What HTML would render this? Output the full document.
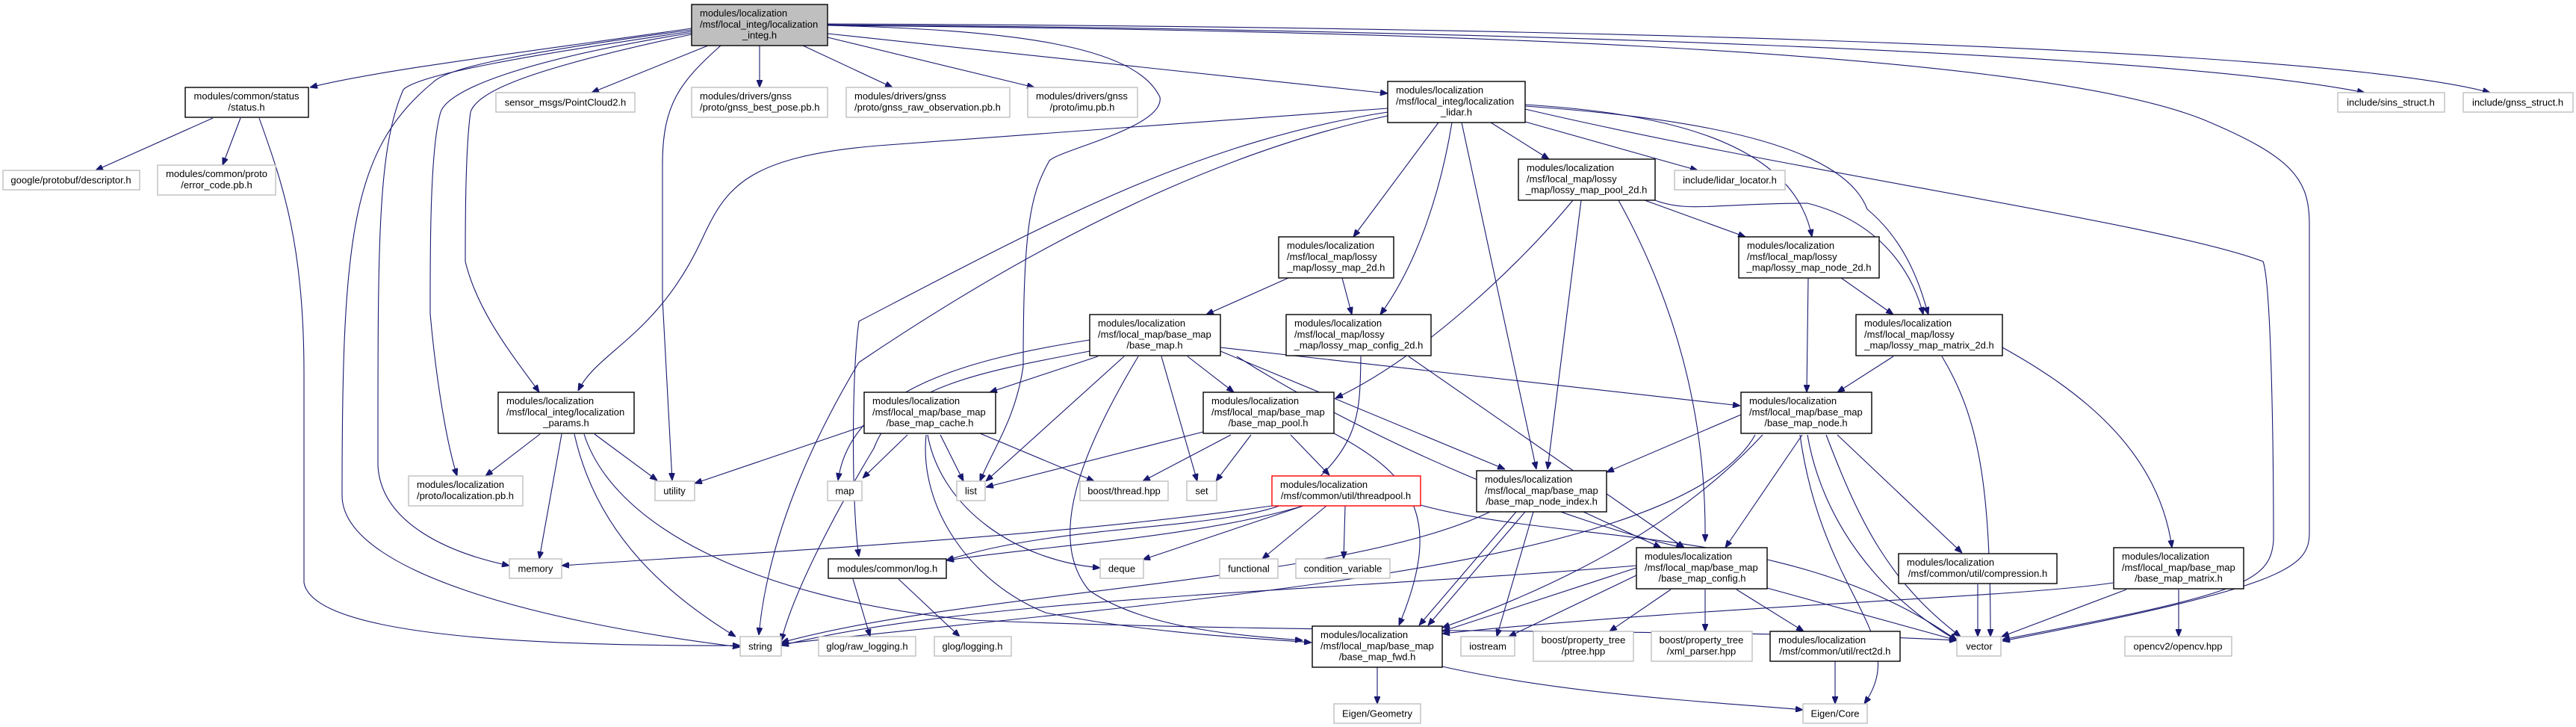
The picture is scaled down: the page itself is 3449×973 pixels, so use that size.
<!DOCTYPE html>
<html><head><meta charset="utf-8">
<style>
html,body{margin:0;padding:0;background:#fff;}
svg{display:block;}
text{font-family:"Liberation Sans",sans-serif;font-size:13px;fill:#000;}
.b{fill:#fff;stroke:#000;stroke-width:1.4;}
.g{fill:#fff;stroke:#bfbfbf;stroke-width:1.4;}
.m{fill:#bfbfbf;stroke:#000;stroke-width:1.4;}
.r{fill:#fff;stroke:#ff0000;stroke-width:1.4;}
.e{fill:none;stroke:#191970;stroke-width:1.1;marker-end:url(#a);}
.c{text-anchor:middle;}
</style></head><body>
<svg width="3449" height="973" viewBox="0 0 3449 973" xmlns="http://www.w3.org/2000/svg">
<defs><marker id="a" viewBox="0 0 10 8" refX="10" refY="4" markerWidth="10" markerHeight="8" markerUnits="userSpaceOnUse" orient="auto"><path d="M0,0L10,4L0,8z" fill="#191970" stroke="#191970"/></marker></defs>

<!-- edges from main -->
<path class="e" d="M926,38 C700,70 500,95 415,117"/>
<path class="e" d="M948,61 L792,124"/>
<path class="e" d="M1017,61 L1017,117"/>
<path class="e" d="M1075,61 L1195,117"/>
<path class="e" d="M1108,50 L1385,117"/>
<path class="e" d="M1108,45 L1858,125"/>
<path class="e" d="M1108,33 C2000,40 2900,70 3166,124"/>
<path class="e" d="M1108,32 C2000,35 3100,60 3334,124"/>
<path class="e" d="M1108,34 C1800,40 2700,60 2950,160 C3070,210 3092,240 3092,300 L3092,713 C3092,760 3060,785 2681,858"/>
<path class="e" d="M926,40 C700,70 600,90 580,110 C470,200 458,320 458,663 C458,760 700,830 991,866"/>
<path class="e" d="M926,42 C700,75 560,100 540,120 C505,200 506,330 506,623 C510,700 600,740 682,757"/>
<path class="e" d="M926,44 C700,80 600,120 590,150 C575,200 576,350 576,420 C585,520 600,600 612,637"/>
<path class="e" d="M926,46 C720,90 640,120 630,150 C623,200 623,300 623,350 C640,420 690,480 722,525"/>
<path class="e" d="M965,61 C910,110 887,140 887,220 L887,400 L900,643"/>
<path class="e" d="M1108,34 C1350,40 1520,60 1553,130 C1560,170 1420,200 1405,215 C1380,260 1370,300 1370,490 C1360,560 1330,600 1312,644"/>

<!-- status -->
<path class="e" d="M285,158 L128,228"/>
<path class="e" d="M322,158 L298,221"/>
<path class="e" d="M347,158 C380,250 407,330 407,500 L407,780 C420,850 700,865 991,864"/>

<!-- lidar.h -->
<path class="e" d="M1858,145 L1175,195 C1000,210 972,250 940,320 C880,450 800,470 774,523"/>
<path class="e" d="M1858,150 C1600,190 1400,300 1150,430 C1140,500 1140,680 1150,745"/>
<path class="e" d="M1858,155 C1600,210 1350,350 1150,485 C1105,560 1030,700 1016,850"/>
<path class="e" d="M1926,164 L1812,317"/>
<path class="e" d="M1944,164 C1930,250 1900,350 1848,421"/>
<path class="e" d="M1957,164 L2057,628"/>
<path class="e" d="M1996,164 L2074,213"/>
<path class="e" d="M2042,163 L2273,228"/>
<path class="e" d="M2042,140 C2200,150 2400,180 2426,317"/>
<path class="e" d="M2042,142 C2300,160 2470,200 2500,280 C2560,330 2575,400 2582,421"/>
<path class="e" d="M2042,146 C2400,230 2900,300 3030,350 C3041,380 3044,600 3044,723 C3040,780 3000,795 2681,856"/>

<!-- lossy_map_pool_2d -->
<path class="e" d="M2202,268 L2337,317"/>
<path class="e" d="M2216,268 C2260,285 2300,272 2420,272 C2530,300 2565,380 2575,421"/>
<path class="e" d="M2106,268 C2030,360 1900,480 1788,533"/>
<path class="e" d="M2117,268 L2072,628"/>
<path class="e" d="M2167,268 C2240,400 2285,550 2283,725"/>

<!-- lossy_map_2d / config_2d -->
<path class="e" d="M1725,372 L1615,421"/>
<path class="e" d="M1797,372 L1810,421"/>
<path class="e" d="M1886,477 L2255,733"/>
<path class="e" d="M1822,477 C1821,560 1820,600 1730,670 C1650,710 1420,700 1267,750"/>

<!-- base_map.h -->
<path class="e" d="M1470,477 L1325,525"/>
<path class="e" d="M1505,477 L1320,644"/>
<path class="e" d="M1459,455 C1300,480 1140,520 1122,643"/>
<path class="e" d="M1459,470 C1300,500 1200,520 1170,600 C1110,700 1060,800 1046,858"/>
<path class="e" d="M1555,477 L1603,644"/>
<path class="e" d="M1590,477 L1652,525"/>
<path class="e" d="M1634,470 L2015,628"/>
<path class="e" d="M1634,465 L2330,543"/>
<path class="e" d="M1524,477 C1450,600 1400,720 1458,790 C1530,840 1650,850 1744,857"/>
<path class="e" d="M1656,477 C1850,600 2100,700 2254,733"/>

<!-- base_map_cache -->
<path class="e" d="M1157,570 L930,647"/>
<path class="e" d="M1215,582 L1155,640"/>
<path class="e" d="M1259,582 L1290,644"/>
<path class="e" d="M1312,580 L1465,644"/>
<path class="e" d="M1242,582 C1260,680 1360,750 1473,760"/>
<path class="e" d="M1240,582 C1230,680 1300,780 1400,820 C1550,850 1700,855 1756,860"/>

<!-- base_map_pool -->
<path class="e" d="M1611,578 L1320,652"/>
<path class="e" d="M1648,582 L1530,644"/>
<path class="e" d="M1675,582 L1628,644"/>
<path class="e" d="M1728,582 L1780,636"/>
<path class="e" d="M1786,580 C1900,640 1930,700 1873,837"/>

<!-- threadpool -->
<path class="e" d="M1703,677 C1400,720 1000,740 752,757"/>
<path class="e" d="M1745,677 C1600,720 1400,730 1267,750"/>
<path class="e" d="M1745,677 L1530,749"/>
<path class="e" d="M1776,677 L1690,748"/>
<path class="e" d="M1801,677 L1799,748"/>
<path class="e" d="M1902,676 C2100,730 2400,700 2620,857"/>

<!-- base_map_node_index -->
<path class="e" d="M2030,685 L1900,837"/>
<path class="e" d="M2042,685 L1912,837"/>
<path class="e" d="M2053,685 L2004,852"/>
<path class="e" d="M2120,685 L2224,733"/>
<path class="e" d="M1995,685 C1800,780 1300,790 1046,860"/>

<!-- base_map_node -->
<path class="e" d="M2331,555 L2151,632"/>
<path class="e" d="M2413,582 L2310,733"/>
<path class="e" d="M2460,582 L2627,740"/>
<path class="e" d="M2445,582 C2490,700 2530,780 2625,852"/>
<path class="e" d="M2420,582 C2440,700 2520,800 2620,857"/>
<path class="e" d="M2410,582 C2440,800 2560,850 2496,942"/>
<path class="e" d="M2360,582 C2250,700 2100,780 1931,840"/>
<path class="e" d="M2350,582 C2250,760 1600,800 1046,862"/>

<!-- base_map_config -->
<path class="e" d="M2191,757 C1800,790 1300,800 1046,864"/>
<path class="e" d="M2191,760 L1931,845"/>
<path class="e" d="M2191,770 L2020,852"/>
<path class="e" d="M2237,789 L2155,845"/>
<path class="e" d="M2283,789 L2283,845"/>
<path class="e" d="M2325,789 L2415,845"/>
<path class="e" d="M2366,787 L2620,857"/>

<!-- base_map_matrix -->
<path class="e" d="M2829,780 C2700,800 2300,810 1931,848"/>
<path class="e" d="M2847,789 L2680,852"/>
<path class="e" d="M2917,789 L2917,852"/>

<!-- lossy matrix/node -->
<path class="e" d="M2535,477 L2460,525"/>
<path class="e" d="M2681,465 C2780,520 2890,600 2908,733"/>
<path class="e" d="M2421,372 L2419,525"/>
<path class="e" d="M2465,372 L2535,421"/>
<path class="e" d="M2600,477 C2650,560 2665,650 2665,852"/>

<!-- misc -->
<path class="e" d="M2648,782 L2648,852"/>
<path class="e" d="M2457,885 L2457,942"/>
<path class="e" d="M1844,893 L1844,942"/>
<path class="e" d="M1931,892 C2100,930 2300,940 2414,950"/>
<path class="e" d="M1142,775 L1165,852"/>
<path class="e" d="M1203,775 L1285,852"/>

<!-- params -->
<path class="e" d="M723,581 L650,637"/>
<path class="e" d="M752,581 L722,748"/>
<path class="e" d="M769,581 C800,720 900,800 985,852"/>
<path class="e" d="M796,581 L880,643"/>
<path class="e" d="M782,581 C820,700 1000,800 1300,830 C1800,850 2300,840 2620,857"/>

<!-- NODES -->
<rect class="m" x="926" y="6" width="182" height="55"/>
<text x="937" y="22">modules/localization</text><text x="937" y="37">/msf/local_integ/localization</text><text class="c" x="1017" y="51.5">_integ.h</text>

<rect class="b" x="248" y="117" width="165" height="40"/>
<text class="c" x="330" y="133">modules/common/status</text><text class="c" x="330" y="148">/status.h</text>

<rect class="g" x="4" y="228" width="183" height="26"/>
<text class="c" x="95" y="245.5">google/protobuf/descriptor.h</text>

<rect class="g" x="211" y="221" width="158" height="40"/>
<text class="c" x="290" y="237">modules/common/proto</text><text class="c" x="290" y="252">/error_code.pb.h</text>

<rect class="g" x="664" y="124" width="186" height="26"/>
<text class="c" x="757" y="141.5">sensor_msgs/PointCloud2.h</text>

<rect class="g" x="926" y="117" width="182" height="40"/>
<text x="937" y="133">modules/drivers/gnss</text><text x="937" y="148">/proto/gnss_best_pose.pb.h</text>

<rect class="g" x="1133" y="117" width="219" height="40"/>
<text x="1144" y="133">modules/drivers/gnss</text><text x="1144" y="148">/proto/gnss_raw_observation.pb.h</text>

<rect class="g" x="1376" y="117" width="147" height="40"/>
<text x="1387" y="133">modules/drivers/gnss</text><text class="c" x="1449" y="148">/proto/imu.pb.h</text>

<rect class="b" x="1858" y="109" width="184" height="55"/>
<text x="1869" y="125">modules/localization</text><text x="1869" y="140">/msf/local_integ/localization</text><text class="c" x="1950" y="154.5">_lidar.h</text>

<rect class="g" x="3130" y="124" width="143" height="26"/>
<text class="c" x="3201" y="141.5">include/sins_struct.h</text>
<rect class="g" x="3298" y="124" width="147" height="26"/>
<text class="c" x="3371" y="141.5">include/gnss_struct.h</text>

<rect class="b" x="2033" y="213" width="183" height="55"/>
<text x="2044" y="229">modules/localization</text><text x="2044" y="244">/msf/local_map/lossy</text><text class="c" x="2124" y="258.5">_map/lossy_map_pool_2d.h</text>

<rect class="g" x="2242" y="228" width="148" height="26"/>
<text class="c" x="2316" y="245.5">include/lidar_locator.h</text>

<rect class="b" x="2328" y="317" width="188" height="55"/>
<text x="2339" y="333">modules/localization</text><text x="2339" y="348">/msf/local_map/lossy</text><text class="c" x="2422" y="362.5">_map/lossy_map_node_2d.h</text>

<rect class="b" x="1712" y="317" width="154" height="55"/>
<text x="1723" y="333">modules/localization</text><text x="1723" y="348">/msf/local_map/lossy</text><text class="c" x="1789" y="362.5">_map/lossy_map_2d.h</text>

<rect class="b" x="1459" y="421" width="175" height="55"/>
<text x="1470" y="437">modules/localization</text><text x="1470" y="452">/msf/local_map/base_map</text><text class="c" x="1546" y="466.5">/base_map.h</text>

<rect class="b" x="1722" y="421" width="194" height="55"/>
<text x="1733" y="437">modules/localization</text><text x="1733" y="452">/msf/local_map/lossy</text><text class="c" x="1819" y="466.5">_map/lossy_map_config_2d.h</text>

<rect class="b" x="2485" y="421" width="196" height="55"/>
<text x="2496" y="437">modules/localization</text><text x="2496" y="452">/msf/local_map/lossy</text><text class="c" x="2583" y="466.5">_map/lossy_map_matrix_2d.h</text>

<rect class="b" x="667" y="525" width="182" height="55"/>
<text x="678" y="541">modules/localization</text><text x="678" y="556">/msf/local_integ/localization</text><text class="c" x="758" y="570.5">_params.h</text>

<rect class="b" x="1157" y="525" width="176" height="55"/>
<text x="1168" y="541">modules/localization</text><text x="1168" y="556">/msf/local_map/base_map</text><text class="c" x="1245" y="570.5">/base_map_cache.h</text>

<rect class="b" x="1611" y="525" width="175" height="55"/>
<text x="1622" y="541">modules/localization</text><text x="1622" y="556">/msf/local_map/base_map</text><text class="c" x="1698" y="570.5">/base_map_pool.h</text>

<rect class="b" x="2331" y="525" width="175" height="55"/>
<text x="2342" y="541">modules/localization</text><text x="2342" y="556">/msf/local_map/base_map</text><text class="c" x="2418" y="570.5">/base_map_node.h</text>

<rect class="g" x="547" y="637" width="153" height="40"/>
<text x="558" y="653">modules/localization</text><text class="c" x="623" y="668">/proto/localization.pb.h</text>

<rect class="g" x="877" y="644" width="53" height="26"/>
<text class="c" x="903" y="661.5">utility</text>
<rect class="g" x="1108" y="644" width="46" height="26"/>
<text class="c" x="1131" y="661.5">map</text>
<rect class="g" x="1281" y="644" width="38" height="26"/>
<text class="c" x="1300" y="661.5">list</text>
<rect class="g" x="1446" y="644" width="118" height="26"/>
<text class="c" x="1505" y="661.5">boost/thread.hpp</text>
<rect class="g" x="1589" y="644" width="40" height="26"/>
<text class="c" x="1609" y="661.5">set</text>

<rect class="r" x="1703" y="637" width="199" height="40"/>
<text x="1714" y="653">modules/localization</text><text class="c" x="1802" y="668">/msf/common/util/threadpool.h</text>

<rect class="b" x="1977" y="630" width="174" height="55"/>
<text x="1988" y="646">modules/localization</text><text x="1988" y="661">/msf/local_map/base_map</text><text class="c" x="2064" y="675.5">/base_map_node_index.h</text>

<rect class="g" x="682" y="748" width="70" height="26"/>
<text class="c" x="717" y="765.5">memory</text>
<rect class="b" x="1109" y="748" width="158" height="26"/>
<text class="c" x="1188" y="765.5">modules/common/log.h</text>
<rect class="g" x="1473" y="748" width="58" height="26"/>
<text class="c" x="1502" y="765.5">deque</text>
<rect class="g" x="1633" y="748" width="78" height="26"/>
<text class="c" x="1672" y="765.5">functional</text>
<rect class="g" x="1735" y="748" width="126" height="26"/>
<text class="c" x="1798" y="765.5">condition_variable</text>

<rect class="b" x="2191" y="733" width="175" height="55"/>
<text x="2202" y="749">modules/localization</text><text x="2202" y="764">/msf/local_map/base_map</text><text class="c" x="2279" y="778.5">/base_map_config.h</text>

<rect class="b" x="2542" y="741" width="212" height="40"/>
<text x="2553" y="757">modules/localization</text><text class="c" x="2648" y="772">/msf/common/util/compression.h</text>

<rect class="b" x="2830" y="733" width="174" height="55"/>
<text x="2841" y="749">modules/localization</text><text x="2841" y="764">/msf/local_map/base_map</text><text class="c" x="2917" y="778.5">/base_map_matrix.h</text>

<rect class="g" x="991" y="852" width="55" height="26"/>
<text class="c" x="1018" y="869.5">string</text>
<rect class="g" x="1096" y="852" width="130" height="26"/>
<text class="c" x="1161" y="869.5">glog/raw_logging.h</text>
<rect class="g" x="1251" y="852" width="103" height="26"/>
<text class="c" x="1302" y="869.5">glog/logging.h</text>

<rect class="b" x="1757" y="838" width="174" height="55"/>
<text x="1768" y="854">modules/localization</text><text x="1768" y="869">/msf/local_map/base_map</text><text class="c" x="1844" y="883.5">/base_map_fwd.h</text>

<rect class="g" x="1956" y="852" width="72" height="26"/>
<text class="c" x="1992" y="869.5">iostream</text>
<rect class="g" x="2053" y="845" width="134" height="40"/>
<text class="c" x="2120" y="861">boost/property_tree</text><text class="c" x="2120" y="876">/ptree.hpp</text>
<rect class="g" x="2211" y="845" width="135" height="40"/>
<text class="c" x="2278" y="861">boost/property_tree</text><text class="c" x="2278" y="876">/xml_parser.hpp</text>
<rect class="b" x="2370" y="845" width="174" height="40"/>
<text x="2381" y="861">modules/localization</text><text class="c" x="2457" y="876">/msf/common/util/rect2d.h</text>

<rect class="g" x="2620" y="852" width="59" height="26"/>
<text class="c" x="2650" y="869.5">vector</text>
<rect class="g" x="2845" y="852" width="143" height="26"/>
<text class="c" x="2916" y="869.5">opencv2/opencv.hpp</text>

<rect class="g" x="1786" y="942" width="116" height="26"/>
<text class="c" x="1844" y="959.5">Eigen/Geometry</text>
<rect class="g" x="2414" y="942" width="86" height="26"/>
<text class="c" x="2457" y="959.5">Eigen/Core</text>
</svg>
</body></html>
